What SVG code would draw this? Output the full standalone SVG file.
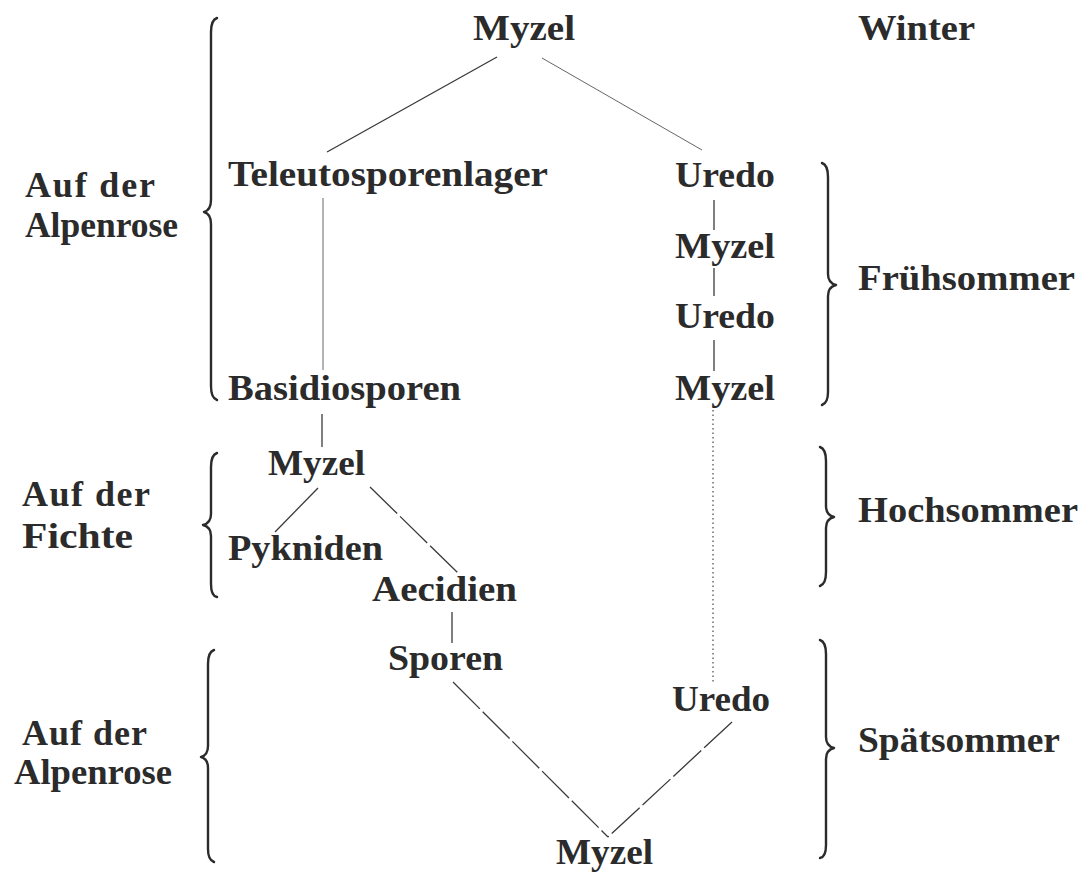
<svg xmlns="http://www.w3.org/2000/svg" width="1084" height="873" viewBox="0 0 1084 873">
<style>
text{font-family:"Liberation Serif","Times New Roman",serif;font-weight:bold;font-size:36px;fill:#2b2b2b}
.ln{stroke:#3a3a3a;stroke-width:1.3;fill:none}
.lt{stroke:#666;stroke-width:1;fill:none}
.dash{stroke:#3a3a3a;stroke-width:1.3;fill:none;stroke-dasharray:38 4}
.dot{stroke:#555;stroke-width:1.3;fill:none;stroke-dasharray:1.5 3}
.br{stroke:#2b2b2b;stroke-width:2.4;fill:none;stroke-linecap:round;stroke-linejoin:round}
</style>
<rect width="1084" height="873" fill="#fff"/>
<g id="connectors">
<line class="ln" x1="497" y1="57" x2="327" y2="152"/>
<line class="lt" x1="542" y1="58" x2="702" y2="150"/>
<line class="lt" x1="323" y1="198" x2="323" y2="370"/>
<line class="ln" x1="322" y1="414" x2="322" y2="447"/>
<line class="ln" x1="714" y1="200" x2="714" y2="230"/>
<line class="ln" x1="714" y1="268" x2="714" y2="296"/>
<line class="ln" x1="714" y1="340" x2="714" y2="371"/>
<line class="dot" x1="713" y1="410" x2="713" y2="683"/>
<line class="ln" x1="318" y1="488" x2="275" y2="532"/>
<line class="dash" x1="370" y1="487" x2="458" y2="573"/>
<line class="ln" x1="452" y1="612" x2="452" y2="643"/>
<line class="dash" x1="453" y1="682" x2="608" y2="837"/>
<line class="dash" x1="732" y1="722" x2="608" y2="837"/>
</g>
<g id="braces">
<path class="br" d="M217,18 Q211,20 211,32 L211,200 Q211,210 204,212 Q211,214 211,224 L211,386 Q211,398 217,400"/>
<path class="br" d="M217,453 Q211,455 211,467 L211,514 Q211,523 203,525 Q211,527 211,536 L211,584 Q211,596 217,597"/>
<path class="br" d="M214,650 Q208,652 208,664 L208,746 Q208,755 201,757 Q208,759 208,768 L208,849 Q208,860 214,862"/>
<path class="br" d="M822,163 Q828,165 828,177 L828,274 Q828,283 836,285 Q828,287 828,296 L828,392 Q828,403 822,405"/>
<path class="br" d="M820,447 Q826,449 826,461 L826,506 Q826,515 834,517 Q826,519 826,528 L826,572 Q826,584 820,586"/>
<path class="br" d="M820,640 Q826,642 826,654 L826,737 Q826,746 834,748 Q826,750 826,759 L826,845 Q826,857 820,858"/>
</g>
<g id="n-myzel-top"><text x="473" y="40" textLength="102" lengthAdjust="spacingAndGlyphs">Myzel</text></g>
<g id="n-winter"><text x="858" y="40" textLength="117" lengthAdjust="spacingAndGlyphs">Winter</text></g>
<g id="n-teleuto"><text x="228" y="186" textLength="320" lengthAdjust="spacingAndGlyphs">Teleutosporenlager</text></g>
<g id="n-uredo1"><text x="675" y="187" textLength="100" lengthAdjust="spacingAndGlyphs">Uredo</text></g>
<g id="n-myzel-r1"><text x="675" y="258" textLength="100" lengthAdjust="spacingAndGlyphs">Myzel</text></g>
<g id="n-uredo2"><text x="675" y="328" textLength="100" lengthAdjust="spacingAndGlyphs">Uredo</text></g>
<g id="n-myzel-r2"><text x="675" y="400" textLength="100" lengthAdjust="spacingAndGlyphs">Myzel</text></g>
<g id="n-basidio"><text x="228" y="400" textLength="233" lengthAdjust="spacingAndGlyphs">Basidiosporen</text></g>
<g id="l-alpenrose1"><text x="25" y="197" textLength="130" lengthAdjust="spacing">Auf der</text><text x="25" y="237" textLength="153" lengthAdjust="spacingAndGlyphs">Alpenrose</text></g>
<g id="l-fruehsommer"><text x="858" y="290" textLength="217" lengthAdjust="spacingAndGlyphs">Frühsommer</text></g>
<g id="n-myzel-mid"><text x="268" y="475" textLength="97" lengthAdjust="spacingAndGlyphs">Myzel</text></g>
<g id="l-fichte"><text x="22" y="506" textLength="128" lengthAdjust="spacing">Auf der</text><text x="22" y="548" textLength="111" lengthAdjust="spacingAndGlyphs">Fichte</text></g>
<g id="l-hochsommer"><text x="858" y="522" textLength="220" lengthAdjust="spacingAndGlyphs">Hochsommer</text></g>
<g id="n-pykniden"><text x="228" y="560" textLength="155" lengthAdjust="spacingAndGlyphs">Pykniden</text></g>
<g id="n-aecidien"><text x="372" y="601" textLength="145" lengthAdjust="spacingAndGlyphs">Aecidien</text></g>
<g id="n-sporen"><text x="388" y="670" textLength="115" lengthAdjust="spacingAndGlyphs">Sporen</text></g>
<g id="n-uredo3"><text x="672" y="711" textLength="98" lengthAdjust="spacingAndGlyphs">Uredo</text></g>
<g id="l-alpenrose2"><text x="22" y="745" textLength="125" lengthAdjust="spacing">Auf der</text><text x="14" y="784" textLength="158" lengthAdjust="spacingAndGlyphs">Alpenrose</text></g>
<g id="l-spaetsommer"><text x="858" y="752" textLength="202" lengthAdjust="spacingAndGlyphs">Spätsommer</text></g>
<g id="n-myzel-bottom"><text x="556" y="864" textLength="97" lengthAdjust="spacingAndGlyphs">Myzel</text></g>
</svg>
